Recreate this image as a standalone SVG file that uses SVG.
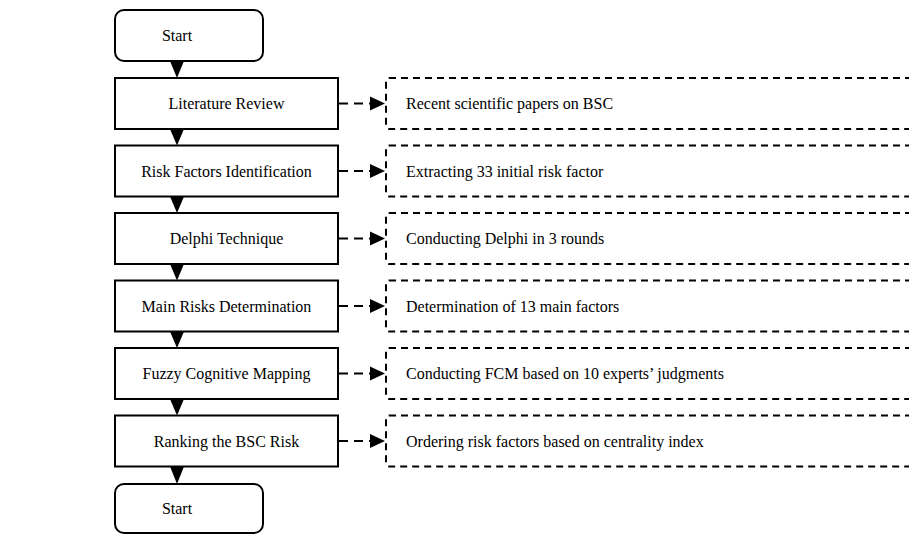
<svg xmlns="http://www.w3.org/2000/svg" width="909" height="534" viewBox="0 0 909 534">
<defs>
<style>
.box{fill:#fff;stroke:#000;stroke-width:2}
.term{fill:#fff;stroke:#000;stroke-width:2}
.dbox{fill:#fff;stroke:#000;stroke-width:2;stroke-dasharray:7 5}
.conn{stroke:#000;stroke-width:2.2;stroke-dasharray:9 6;fill:none}
.tri{fill:#000}
text{font-family:"Liberation Serif","Times New Roman",serif;font-size:16px;fill:#000}
.c{text-anchor:middle}
</style>
</defs>
<g id="start"><rect class="term" x="115" y="10" width="148" height="51" rx="9"/><text class="c" x="177" y="41">Start</text></g>
<g id="n1"><rect class="box" x="115" y="78" width="223" height="51"/><text class="c" x="226.5" y="109">Literature Review</text></g>
<g id="n2"><rect class="box" x="115" y="145.5" width="223" height="51"/><text class="c" x="226.5" y="176.5">Risk Factors Identification</text></g>
<g id="n3"><rect class="box" x="115" y="213" width="223" height="51"/><text class="c" x="226.5" y="244">Delphi Technique</text></g>
<g id="n4"><rect class="box" x="115" y="280.5" width="223" height="51"/><text class="c" x="226.5" y="311.5">Main Risks Determination</text></g>
<g id="n5"><rect class="box" x="115" y="348" width="223" height="51"/><text class="c" x="226.5" y="379">Fuzzy Cognitive Mapping</text></g>
<g id="n6"><rect class="box" x="115" y="415.5" width="223" height="51"/><text class="c" x="226.5" y="446.5">Ranking the BSC Risk</text></g>
<g id="end"><rect class="term" x="115" y="484" width="148" height="49" rx="9"/><text class="c" x="177" y="514">Start</text></g>
<g id="d1"><rect class="dbox" x="386" y="78" width="540" height="51" rx="3"/><text x="406" y="109">Recent scientific papers on BSC</text></g>
<g id="d2"><rect class="dbox" x="386" y="145.5" width="540" height="51" rx="3"/><text x="406" y="176.5">Extracting 33 initial risk factor</text></g>
<g id="d3"><rect class="dbox" x="386" y="213" width="540" height="51" rx="3"/><text x="406" y="244">Conducting Delphi in 3 rounds</text></g>
<g id="d4"><rect class="dbox" x="386" y="280.5" width="540" height="51" rx="3"/><text x="406" y="311.5">Determination of 13 main factors</text></g>
<g id="d5"><rect class="dbox" x="386" y="348" width="540" height="51" rx="3"/><text x="406" y="379">Conducting FCM based on 10 experts’ judgments</text></g>
<g id="d6"><rect class="dbox" x="386" y="415.5" width="540" height="51" rx="3"/><text x="406" y="446.5">Ordering risk factors based on centrality index</text></g>
<g id="connectors">
<polygon class="tri" points="170,61 184,61 177,78"/>
<polygon class="tri" points="170,129 184,129 177,145.5"/>
<polygon class="tri" points="170,196.5 184,196.5 177,213"/>
<polygon class="tri" points="170,264 184,264 177,280.5"/>
<polygon class="tri" points="170,331.5 184,331.5 177,348"/>
<polygon class="tri" points="170,399 184,399 177,415.5"/>
<polygon class="tri" points="170,466.5 184,466.5 177,484"/>
<g>
<line class="conn" x1="339" y1="103.5" x2="372" y2="103.5"/><polygon class="tri" points="370,96.5 385,103.5 370,110.5"/>
<line class="conn" x1="339" y1="171" x2="372" y2="171"/><polygon class="tri" points="370,164 385,171 370,178"/>
<line class="conn" x1="339" y1="238.5" x2="372" y2="238.5"/><polygon class="tri" points="370,231.5 385,238.5 370,245.5"/>
<line class="conn" x1="339" y1="306" x2="372" y2="306"/><polygon class="tri" points="370,299 385,306 370,313"/>
<line class="conn" x1="339" y1="373.5" x2="372" y2="373.5"/><polygon class="tri" points="370,366.5 385,373.5 370,380.5"/>
<line class="conn" x1="339" y1="441" x2="372" y2="441"/><polygon class="tri" points="370,434 385,441 370,448"/>
</g>
</g>
</svg>
